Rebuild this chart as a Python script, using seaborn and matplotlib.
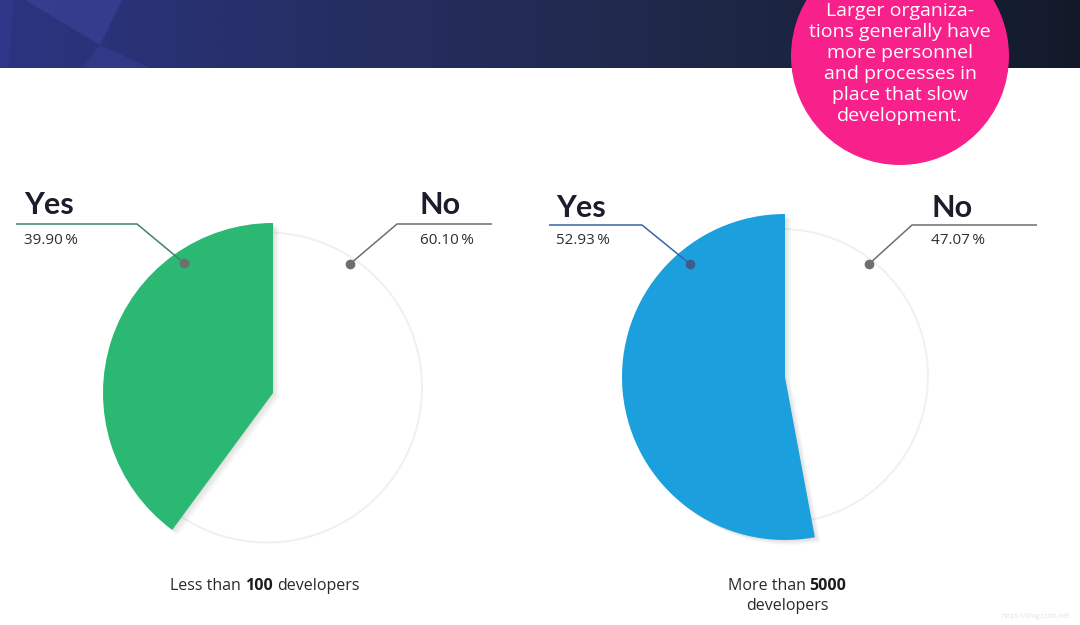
import numpy as np
import matplotlib
matplotlib.use("Agg")
import matplotlib.pyplot as plt
import seaborn as sns
from matplotlib.patches import Circle, Polygon
from matplotlib.colors import LinearSegmentedColormap
from matplotlib.offsetbox import TextArea, HPacker, VPacker, AnnotationBbox

# ---------------- data ----------------
answers = ["Yes", "No"]
small_org = [39.90, 60.10]        # Less than 100 developers
large_org = [52.93, 47.07]        # More than 5000 developers
yes_colors = ["#2bb873", "#1ca0dd"]
note_lines = ["Larger organiza-", "tions generally have", "more personnel",
              "and processes in", "place that slow", "development."]

sns.set_theme(style="white")
plt.rcParams['font.family'] = ['Open Sans', 'DejaVu Sans']
HEAD_FONT = ['Lato', 'DejaVu Sans']

W, H = 1080, 625
fig = plt.figure(figsize=(10.8, 6.25), dpi=100)
fig.patch.set_facecolor('white')
ax = fig.add_axes([0, 0, 1, 1])
ax.set_facecolor('white')


def Y(py):
    return H - py


# ---------------- header ----------------
cmap = LinearSegmentedColormap.from_list(
    'hdr', [(0, '#2c3482'), (0.3, '#262f63'), (0.6, '#20294b'), (1, '#121a2a')])
ax.imshow(np.linspace(0, 1, 512)[None, :], cmap=cmap, aspect='auto',
          extent=[0, W, Y(68), H], zorder=0, interpolation='bilinear')
facets = [
    ([(0, 0), (14, 0), (8, 68), (0, 68)], '#30388c', 0.9),
    ([(25, 0), (122, 0), (100, 45)], '#383e90', 0.9),
    ([(100, 45), (82, 68), (150, 68)], '#343a8a', 0.8),
]
for pts, col, a in facets:
    ax.add_patch(Polygon([(x, Y(y)) for x, y in pts], closed=True,
                         facecolor=col, edgecolor='none', alpha=a, zorder=1))

# pink note circle
ax.add_patch(Circle((900, Y(56)), 109, facecolor='#f8208b', edgecolor='none', zorder=5))
for i, line in enumerate(note_lines):
    ax.text(900, Y(11 + 21 * i), line, ha='center', va='center', color='white',
            fontsize=14, zorder=6)

# ---------------- pies ----------------
pies = [
    dict(vals=small_org, color=yes_colors[0], c=(267, 387.5), r=155, a=(273, 393), R=170),
    dict(vals=large_org, color=yes_colors[1], c=(781, 376), r=147, a=(785, 377), R=163),
]
for p in pies:
    w, _ = ax.pie(p['vals'], colors=['white', 'white'], startangle=90, counterclock=True,
                  radius=p['r'], center=(p['c'][0], Y(p['c'][1])), frame=True,
                  wedgeprops=dict(edgecolor='#f0f0f0', linewidth=1.4))
    for wd in w:
        wd.set_zorder(2)
    # soft shadow
    for k in range(1, 6):
        ws, _ = ax.pie(p['vals'], colors=['black', 'none'], startangle=90, counterclock=True,
                       radius=p['R'], center=(p['a'][0] + k * 1.2, Y(p['a'][1]) - k * 1.0),
                       frame=True, wedgeprops=dict(linewidth=0, alpha=0.025))
        for wd in ws:
            wd.set_zorder(3)
    wy, _ = ax.pie(p['vals'], colors=[p['color'], 'none'], startangle=90, counterclock=True,
                   radius=p['R'], center=(p['a'][0], Y(p['a'][1])), frame=True,
                   wedgeprops=dict(linewidth=0))
    for wd in wy:
        wd.set_zorder(4)

# ---------------- labels & leaders ----------------
labels = [
    # (text, pct, text_xy, pct_xy, line_pts, line_color, dot_color)
    (answers[0], small_org[0], (24, 205), (24, 240),
     [(16, 224), (137, 224), (184, 263)], '#3f8468', '#6f6f6f'),
    (answers[1], small_org[1], (420, 205), (420, 240),
     [(492, 224), (397, 224), (350, 264)], '#6f6f6f', '#6f6f6f'),
    (answers[0], large_org[0], (556, 208), (556, 241),
     [(549, 225), (642, 225), (690, 264)], '#3466a8', '#3d5d8f'),
    (answers[1], large_org[1], (931, 208), (931, 241),
     [(1037, 225), (912, 225), (869, 264)], '#6f6f6f', '#6f6f6f'),
]
for txt, pct, txy, pxy, pts, lc, dc in labels:
    ax.text(txy[0], Y(txy[1]), txt, ha='left', va='center', fontsize=22,
            fontweight='bold', color='#1b1e2a', zorder=7, family=HEAD_FONT)
    ax.text(pxy[0], Y(pxy[1]), f"{pct:.2f}\u2009%", ha='left', va='center',
            fontsize=11, color='#2e2e2e', zorder=7)
    xs = [q[0] for q in pts]
    ys = [Y(q[1]) for q in pts]
    ax.plot(xs, ys, color=lc, linewidth=1.1, zorder=7, solid_capstyle='butt')
    ax.plot(xs[-1], ys[-1], 'o', color=dc, markersize=6, zorder=8)

# bottom captions with bold numbers
tp = dict(fontsize=11.5, color='#2a2a2a')
tb = dict(fontsize=11.5, color='#1b1b1b', fontweight='bold')
cap1 = HPacker(children=[TextArea("Less than", textprops=tp), TextArea("100", textprops=tb),
                         TextArea("developers", textprops=tp)], sep=3, pad=0, align='baseline')
ax.add_artist(AnnotationBbox(cap1, (265, Y(586)), frameon=False, box_alignment=(0.5, 0.5),
                             zorder=7))
cap2_top = HPacker(children=[TextArea("More than", textprops=tp), TextArea("5000", textprops=tb)],
                   sep=3, pad=0, align='baseline')
cap2 = VPacker(children=[cap2_top, TextArea("developers", textprops=tp)], sep=3, pad=0,
               align='center')
ax.add_artist(AnnotationBbox(cap2, (787, Y(596)), frameon=False, box_alignment=(0.5, 0.5),
                             zorder=7))

ax.text(1070, Y(617), "https://blog.csdn.net", ha='right', va='center', fontsize=5,
        color='#e2e2e2', zorder=7)

ax.set_xlim(0, W)
ax.set_ylim(0, H)
ax.set_aspect('equal', adjustable='box')
ax.axis('off')

fig.savefig("out.png", dpi=100, facecolor='white')
